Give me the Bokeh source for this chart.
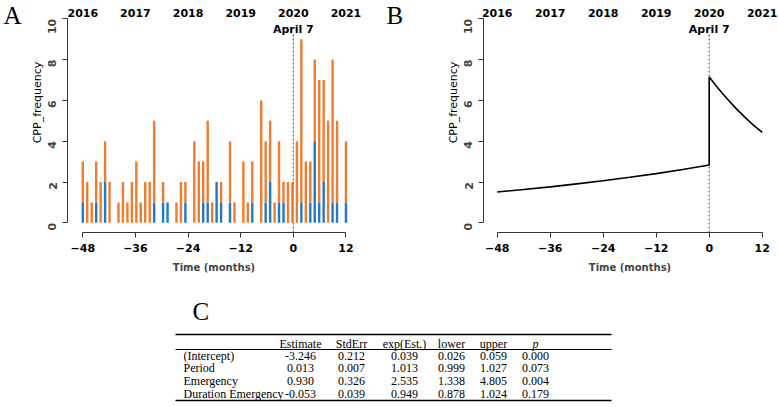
import math
from bokeh.plotting import figure
from bokeh.layouts import column, row
from bokeh.models import Range1d, FixedTicker, ColumnDataSource
from bokeh.embed import file_html
from bokeh.resources import INLINE
from bokeh.core.properties import value

# ---------------- data ----------------
tick_months = [-48, -36, -24, -12, 0, 12]
year_labels = ["2016", "2017", "2018", "2019", "2020", "2021"]
y_ticks = [0, 2, 4, 6, 8, 10]

# monthly CPP counts (60 months), total and the blue sub-part
cpp_total = [3, 2, 1, 3, 2, 4, 2, 0, 1, 2,
             1, 2, 3, 1, 2, 2, 5, 0, 2, 1,
             0, 1, 2, 2, 0, 4, 3, 3, 5, 1,
             2, 2, 0, 4, 1, 0, 3, 1, 3, 0,
             6, 4, 5, 1, 4, 2, 2, 2, 4, 9,
             3, 3, 8, 7, 7, 5, 8, 5, 0, 4]
cpp_blue = [1, 0, 0, 1, 0, 2, 0, 0, 0, 0,
            0, 0, 0, 0, 0, 0, 1, 0, 1, 1,
            0, 0, 0, 1, 0, 0, 0, 1, 1, 0,
            2, 1, 0, 1, 0, 0, 0, 0, 1, 0,
            0, 1, 2, 0, 1, 1, 0, 0, 0, 1,
            0, 1, 4, 1, 2, 0, 1, 1, 0, 1]

# fitted model curve (panel B)
fit_time = [-48, -42, -36, -30, -24, -18, -12, -6, 0, 0, 2, 4, 6, 8, 10, 12]
fit_value = [1.51, 1.63, 1.76, 1.91, 2.06, 2.23, 2.41, 2.61, 2.83,
             7.15, 6.60, 6.09, 5.62, 5.19, 4.79, 4.43]

event_label = "April 7"
y_title = "CPP_frequency"
x_title = "Time (months)"

# regression table (panel C)
table_terms = ["(Intercept)", "Period", "Emergency", "Duration Emergency"]
table_cols = ["Estimate", "StdErr", "exp(Est.)", "lower", "upper", "p"]
estimate = [-3.246, 0.013, 0.930, -0.053]
stderr = [0.212, 0.007, 0.326, 0.039]
exp_est = [0.039, 1.013, 2.535, 0.949]
lower = [0.026, 0.999, 1.338, 0.878]
upper = [0.059, 1.027, 4.805, 1.024]
p_val = [0.000, 0.073, 0.004, 0.179]

ORANGE = "#ED7D31"
BLUE = "#2478C4"
FONT = "DejaVu Sans"
SERIF = "Liberation Serif"

PANEL_H = 276
Y_PX = 20.4          # pixels per count
Y0_PX = 222.3        # pixel row of count 0


def make_panel(px0, width, x_tick0_px, px_per_month, axis_px, letter):
    """One panel figure whose frame fills its canvas; axes are placed at fixed spots."""
    left = tick_months[0] - (x_tick0_px - px0) / px_per_month
    right = left + width / px_per_month
    ytop = Y0_PX / Y_PX
    ybot = (Y0_PX - PANEL_H) / Y_PX
    p = figure(width=width, height=PANEL_H, x_range=Range1d(left, right),
               y_range=Range1d(ybot, ytop), min_border=0,
               output_backend="svg", toolbar_location=None)
    p.xgrid.visible = False
    p.ygrid.visible = False
    p.outline_line_color = None
    p.background_fill_color = None

    def fx(px):
        return left + (px - px0) / px_per_month

    def fy(py):
        return (Y0_PX - py) / Y_PX

    xa = p.xaxis[0]
    ya = p.yaxis[0]
    xa.fixed_location = fy(232)
    ya.fixed_location = fx(axis_px)

    xa.ticker = FixedTicker(ticks=tick_months)
    xa.bounds = (tick_months[0], tick_months[-1])
    xa.major_tick_out = 5
    xa.major_tick_in = 0
    xa.minor_tick_line_color = None
    xa.major_label_text_font = FONT
    xa.major_label_text_font_style = "bold"
    xa.major_label_text_font_size = "11px"
    xa.major_label_text_color = "black"
    xa.major_label_standoff = 6
    xa.axis_label = x_title
    xa.axis_label_text_font = FONT
    xa.axis_label_text_font_style = "bold"
    xa.axis_label_text_font_size = "10px"
    xa.axis_label_standoff = 7
    xa.axis_line_color = "#333333"
    xa.major_tick_line_color = "#333333"

    ya.ticker = FixedTicker(ticks=y_ticks)
    ya.bounds = (0, 10)
    ya.major_tick_out = 5
    ya.major_tick_in = 0
    ya.minor_tick_line_color = None
    ya.major_label_orientation = math.pi / 2
    ya.major_label_text_font = FONT
    ya.major_label_text_font_style = "bold"
    ya.major_label_text_font_size = "11px"
    ya.major_label_standoff = 10
    ya.axis_line_color = "#333333"
    ya.major_tick_line_color = "#333333"

    # year labels along the top
    p.text(x=tick_months, y=[fy(12)] * len(tick_months), text=year_labels,
           text_font=value(FONT), text_font_style=value("bold"),
           text_font_size=value("11px"), text_align="center",
           text_baseline="middle", text_color="black")
    # event marker
    p.segment(x0=[0], x1=[0], y0=[fy(232)], y1=[fy(33)], line_color="#444444",
              line_width=1, line_dash="2 2")
    p.text(x=[0], y=[fy(29)], text=[event_label], text_font=value(FONT),
           text_font_style=value("bold"), text_font_size=value("11px"),
           text_align="center", text_baseline="middle", text_color="black")
    # panel letter and y title
    p.text(x=[fx(px0 + 3)], y=[fy(15)], text=[letter], text_font=value(SERIF),
           text_font_size=value("25px"), text_align="left",
           text_baseline="middle", text_color="black")
    p.text(x=[fx(axis_px - 30)], y=[fy(102)], text=[y_title], angle=math.pi / 2,
           text_font=value(FONT), text_font_size=value("11px"),
           text_align="center", text_baseline="middle", text_color="black")
    return p


# ---------------- panel A ----------------
n = len(cpp_total)
span = tick_months[-1] - tick_months[0]
bar_x = [tick_months[0] + i * span / (n - 1) for i in range(n)]

pA = make_panel(0, 383, 82.3, 4.386, 67, "A")
src = ColumnDataSource(dict(x=bar_x, total=cpp_total, blue=cpp_blue))
pA.vbar(x="x", bottom=0, top="blue", width=0.55, source=src, fill_color=BLUE, line_color=None)
pA.vbar(x="x", bottom="blue", top="total", width=0.55, source=src, fill_color=ORANGE, line_color=None)

# ---------------- panel B ----------------
pB = make_panel(383, 395, 496.7, 4.417, 483, "B")
pB.line(x=fit_time, y=fit_value, line_color="black", line_width=1.6)

# ---------------- panel C (table) ----------------
pC = figure(width=776, height=131, x_range=Range1d(0, 776), y_range=Range1d(407, 276),
            x_axis_type=None, y_axis_type=None, min_border=0,
            output_backend="svg", toolbar_location=None)
pC.xgrid.visible = False
pC.ygrid.visible = False
pC.outline_line_color = None

col_x = [300, 351, 404, 451, 493, 535]
row_y = [355, 367, 380, 393]
head_y = 343
tbl_left, tbl_right = 175, 611

pC.segment(x0=[tbl_left] * 3, x1=[tbl_right] * 3, y0=[334, 349, 400], y1=[334, 349, 400],
           line_color="black", line_width=[1.5, 1, 1.5])
pC.text(x=[192], y=[311], text=["C"], text_font=value(SERIF), text_font_size=value("25px"),
        text_align="left", text_baseline="middle", text_color="black")

head_style = ["normal"] * 5 + ["italic"]
pC.text(x=col_x, y=[head_y] * 6, text=table_cols, text_font=value(SERIF),
        text_font_size=value("12px"), text_font_style=head_style,
        text_align="center", text_baseline="middle", text_color="black")
pC.text(x=[183] * 4, y=row_y, text=table_terms, text_font=value(SERIF),
        text_font_size=value("12px"), text_align="left", text_baseline="middle",
        text_color="black")
columns_vals = [estimate, stderr, exp_est, lower, upper, p_val]
cx, cy, ct = [], [], []
for j, vals in enumerate(columns_vals):
    for i, v in enumerate(vals):
        cx.append(col_x[j])
        cy.append(row_y[i])
        ct.append("%.3f" % v)
pC.text(x=cx, y=cy, text=ct, text_font=value(SERIF), text_font_size=value("12px"),
        text_align="center", text_baseline="middle", text_color="black")

layout = column(row(pA, pB), pC)
open("out.html", "w").write(file_html(layout, INLINE))
